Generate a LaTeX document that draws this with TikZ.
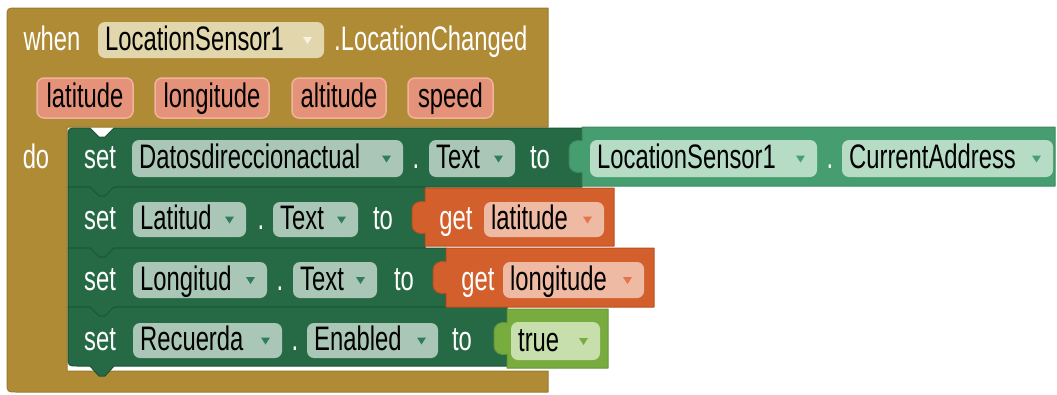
\documentclass[tikz,border=0pt]{standalone}
\usepackage{fontspec}
\setmainfont{Liberation Sans}[FakeStretch=0.70]
\definecolor{brownc}{HTML}{B08B36}
\definecolor{brownl}{HTML}{9C7A2E}
\definecolor{dgreen}{HTML}{266A45}
\definecolor{dgreenl}{HTML}{1C5535}
\definecolor{spill}{HTML}{A9C6B6}
\definecolor{stri}{HTML}{2F7E57}
\definecolor{lgreen}{HTML}{469E70}
\definecolor{lgreenl}{HTML}{3A8A5F}
\definecolor{gpill}{HTML}{B6DCC6}
\definecolor{gtri}{HTML}{46A073}
\definecolor{orangec}{HTML}{D3602C}
\definecolor{orangel}{HTML}{B9501F}
\definecolor{opill}{HTML}{EFBAA3}
\definecolor{otri}{HTML}{E5734B}
\definecolor{limec}{HTML}{78AC3F}
\definecolor{limel}{HTML}{669636}
\definecolor{lpill}{HTML}{C7DFAD}
\definecolor{ltri}{HTML}{78AC3F}
\definecolor{tpill}{HTML}{E2D6AC}
\definecolor{ttri}{HTML}{F7F2E4}
\definecolor{parfill}{HTML}{E4937A}
\definecolor{parline}{HTML}{F2B39C}
\tikzset{
  lbl/.style={inner sep=0pt, font=\fontsize{34}{40}\selectfont},
  wlbl/.style={lbl, text=white},
  blk/.style={line width=1pt, line join=round},
  stmtc/.style={blk, fill=dgreen, draw=dgreenl},
  pillshape/.style={draw=none, rounded corners=7pt, inner sep=0pt},
}
\newcommand{\dpill}[8]{%
  \node[pillshape, fill=#1, minimum width={(#6-#4)*1pt}, minimum height={(#7-#5)*1pt}] (#3) at ({(#4+#6)/2},{(#5+#7)/2}) {};
  \node[lbl, anchor=base west] (#3t) at ({#4+7},{(#5+#7)/2+10}) {#8};
  \fill[#2] ({#6-21},{(#5+#7)/2-3}) -- ++(9,0) -- ++(-4.5,7) -- cycle;
}
\newcommand{\ppill}[6]{%
  \node[pillshape, fill=parfill, draw=parline, line width=1.5pt, minimum width={(#4-#2)*1pt}, minimum height={(#5-#3)*1pt}] (#1) at ({(#2+#4)/2},{(#3+#5)/2}) {};
  \node[lbl, anchor=base] (#1t) at ({(#2+#4)/2},{(#3+#5)/2+9}) {#6};
}
\newcommand{\vblk}[5]{%
  \draw[blk,#1] (#2,#3) -- (#4,#3) -- (#4,#5) -- (#2,#5) -- ({#2},{#3+45})
    .. controls ({#2-7},{#3+47}) and ({#2-13},{#3+43}) .. ({#2-13},{#3+37})
    -- ({#2-13},{#3+22})
    .. controls ({#2-13},{#3+16}) and ({#2-7},{#3+12}) .. ({#2},{#3+14}) -- cycle;
}
\begin{document}
\begin{tikzpicture}[x=1pt,y=-1pt]
\useasboundingbox (0,0) rectangle (1057,394);
\fill[white] (0,0) rectangle (1057,394);
% event block
\draw[blk, fill=brownc, draw=brownl] (7,18) .. controls (7,8) .. (17,8) -- (548,8) -- (548,127) -- (67,127) -- (67,371) -- (548,371) -- (548,392) -- (17,392) .. controls (7,392) .. (7,382) -- cycle;
\node[wlbl, anchor=base] (when) at (52,50) {when};
\dpill{tpill}{ttri}{evsensor}{98}{22}{324}{58}{LocationSensor1}
\node[wlbl, anchor=base west] (evname) at (334,50) {.LocationChanged};
\ppill{plat}{37}{78}{133}{118}{latitude}
\ppill{plon}{155}{78}{269}{118}{longitude}
\ppill{palt}{292}{78}{386}{118}{altitude}
\ppill{pspd}{408}{78}{493}{118}{speed}
\node[wlbl, anchor=base] (do) at (36,168) {do};
% statement rows
\draw[stmtc] (68,138) .. controls (68,128) .. (78,128) -- (90,128) -- (99,137) -- (105,137) -- (114,128) -- (582,128) -- (582,187) -- (114,187) -- (105,196) -- (99,196) -- (90,187) -- (68,187) -- cycle;
\draw[stmtc] (68,187) -- (90,187) -- (99,196) -- (105,196) -- (114,187) -- (425,187) -- (425,248) -- (114,248) -- (105,257) -- (99,257) -- (90,248) -- (68,248) -- cycle;
\draw[stmtc] (68,248) -- (90,248) -- (99,257) -- (105,257) -- (114,248) -- (446,248) -- (446,307) -- (114,307) -- (105,316) -- (99,316) -- (90,307) -- (68,307) -- cycle;
\draw[stmtc] (68,307) -- (90,307) -- (99,316) -- (105,316) -- (114,307) -- (507,307) -- (507,366) -- (114,366) -- (105,376) -- (99,376) -- (90,366) -- (78,366) .. controls (68,366) .. (68,356) -- cycle;
% value blocks
\vblk{fill=lgreen, draw=lgreenl}{582}{127}{1055}{186}
\vblk{fill=orangec, draw=orangel}{425}{188}{614}{246}
\vblk{fill=orangec, draw=orangel}{446}{248}{654}{307}
\vblk{fill=limec, draw=limel}{507}{309}{608}{368}
% row 1
\node[wlbl, anchor=base] (set1) at (100,168) {set};
\dpill{spill}{stri}{r1comp}{132}{140}{403}{177}{Datosdireccionactual}
\node[wlbl, anchor=base] (dot1) at (416,168) {.};
\dpill{spill}{stri}{r1prop}{429}{140}{515}{177}{Text}
\node[wlbl, anchor=base] (to1) at (540,168) {to};
\dpill{gpill}{gtri}{g1comp}{590}{140}{817}{177}{LocationSensor1}
\node[wlbl, anchor=base] (gdot) at (830,168) {.};
\dpill{gpill}{gtri}{g1prop}{842}{140}{1053}{177}{CurrentAddress}
% row 2
\node[wlbl, anchor=base] (set2) at (100,229) {set};
\dpill{spill}{stri}{r2comp}{133}{202}{246}{237}{Latitud}
\node[wlbl, anchor=base] (dot2) at (261,229) {.};
\dpill{spill}{stri}{r2prop}{273}{202}{358}{237}{Text}
\node[wlbl, anchor=base] (to2) at (383,229) {to};
\node[wlbl, anchor=base] (get2) at (456,229) {get};
\dpill{opill}{otri}{v2}{484}{202}{604}{237}{latitude}
% row 3
\node[wlbl, anchor=base] (set3) at (100,290) {set};
\dpill{spill}{stri}{r3comp}{133}{262}{267}{298}{Longitud}
\node[wlbl, anchor=base] (dot3) at (280,290) {.};
\dpill{spill}{stri}{r3prop}{293}{262}{377}{298}{Text}
\node[wlbl, anchor=base] (to3) at (404,290) {to};
\node[wlbl, anchor=base] (get3) at (478,290) {get};
\dpill{opill}{otri}{v3}{503}{262}{644}{298}{longitude}
% row 4
\node[wlbl, anchor=base] (set4) at (100,350) {set};
\dpill{spill}{stri}{r4comp}{133}{323}{282}{358}{Recuerda}
\node[wlbl, anchor=base] (dot4) at (295,350) {.};
\dpill{spill}{stri}{r4prop}{307}{323}{438}{358}{Enabled}
\node[wlbl, anchor=base] (to4) at (462,350) {to};
\dpill{lpill}{ltri}{v4}{511}{322}{600}{360}{true}
\end{tikzpicture}
\end{document}
